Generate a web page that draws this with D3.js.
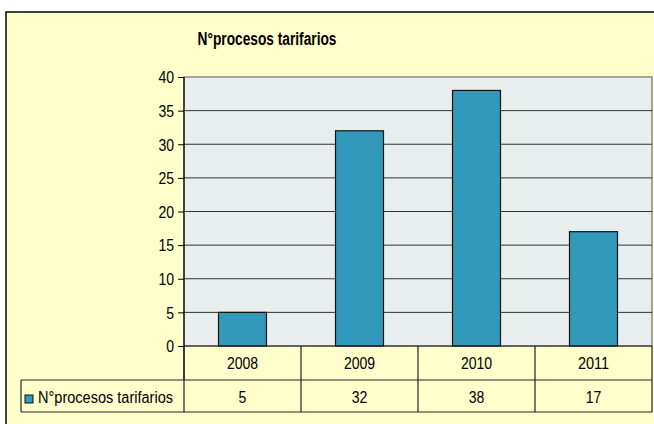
<!DOCTYPE html>
<meta charset="UTF-8">
<style>
body { margin: 0; background: #fff; }
text { font-family: "Liberation Sans", Arial, sans-serif; fill: #000; }
</style>
<body>
<script src="https://d3js.org/d3.v7.min.js"></script>
<script>

// chart data
var years = ["2008", "2009", "2010", "2011"];
var procesos = [5, 32, 38, 17];
var yTicks = [0, 5, 10, 15, 20, 25, 30, 35, 40];
var seriesName = "N°procesos tarifarios";
var title = "N°procesos tarifarios";

var W = 654, H = 424;
var plot = {left: 184, top: 77, right: 652, bottom: 346};
var row1 = 380, row2 = 412, legendLeft = 21;
var charW = 7.8; // narrow digits like the original

var svg = d3.select("body").append("svg")
    .attr("width", W)
    .attr("height", H);

// outer chart area
svg.append("rect")
    .attr("x", 6).attr("y", 12)
    .attr("width", W).attr("height", H)
    .style("fill", "#ffffcc")
    .style("stroke", "#000")
    .style("stroke-width", 1.5);

var x = d3.scaleBand().domain(years).range([plot.left, plot.right]).paddingInner(0).paddingOuter(0);
var y = d3.scaleLinear().domain([0, 40]).range([plot.bottom, plot.top]);

// plot background
svg.append("rect")
    .attr("x", plot.left).attr("y", plot.top)
    .attr("width", plot.right - plot.left)
    .attr("height", plot.bottom - plot.top)
    .style("fill", "#e8eeee")
    .style("stroke", "#888")
    .style("stroke-width", 1.5);

// gridlines
svg.selectAll(".grid").data(yTicks.filter(function(d) { return d > 0 && d < 40; }))
  .enter().append("line")
    .attr("x1", plot.left).attr("x2", plot.right)
    .attr("y1", function(d) { return y(d); })
    .attr("y2", function(d) { return y(d); })
    .style("stroke", "#333")
    .style("stroke-width", 1);

// bars
var bw = x.bandwidth() * 0.41;
svg.selectAll(".bar").data(procesos)
  .enter().append("rect")
    .attr("x", function(d, i) { return x(years[i]) + (x.bandwidth() - bw) / 2; })
    .attr("y", function(d) { return y(d); })
    .attr("width", bw)
    .attr("height", function(d) { return y(0) - y(d); })
    .style("fill", "#3399bb")
    .style("stroke", "#111")
    .style("stroke-width", 1.2);

function narrow(sel) {
  sel.attr("textLength", function() { return this.textContent.length * charW; })
     .attr("lengthAdjust", "spacingAndGlyphs");
}

// y axis
var yAxis = d3.axisLeft(y).tickValues(yTicks).tickSize(6).tickPadding(4);
var ga = svg.append("g")
    .attr("transform", "translate(" + plot.left + ",0)")
    .call(yAxis);
ga.select(".domain").remove();
ga.selectAll("line").style("stroke", "#000");
ga.selectAll("text")
    .style("font-size", "16px")
    .style("font-family", "'Liberation Sans', Arial, sans-serif")
    .attr("fill", "#000")
    .attr("dy", "0.36em")
    .call(narrow);
svg.append("line")
    .attr("x1", plot.left).attr("x2", plot.left)
    .attr("y1", plot.top).attr("y2", row1)
    .style("stroke", "#000").style("stroke-width", 1.2);

// data table
var tbl = svg.append("g").style("stroke", "#222").style("stroke-width", 1.2);
tbl.append("line").attr("x1", plot.left).attr("x2", plot.right).attr("y1", plot.bottom).attr("y2", plot.bottom);
tbl.append("line").attr("x1", legendLeft).attr("x2", plot.right).attr("y1", row1).attr("y2", row1);
tbl.append("line").attr("x1", legendLeft).attr("x2", plot.right).attr("y1", row2).attr("y2", row2);
tbl.append("line").attr("x1", legendLeft).attr("x2", legendLeft).attr("y1", row1).attr("y2", row2);
tbl.selectAll(".vl").data(years)
  .enter().append("line")
    .attr("x1", function(d) { return x(d) + x.bandwidth(); })
    .attr("x2", function(d) { return x(d) + x.bandwidth(); })
    .attr("y1", plot.bottom).attr("y2", row2);
tbl.append("line").attr("x1", plot.left).attr("x2", plot.left).attr("y1", plot.bottom).attr("y2", row2);

svg.selectAll(".cat").data(years)
  .enter().append("text")
    .attr("x", function(d) { return x(d) + x.bandwidth() / 2; })
    .attr("y", 368.5)
    .attr("text-anchor", "middle")
    .style("font-size", "16px")
    .text(function(d) { return d; })
    .call(narrow);

svg.selectAll(".val").data(procesos)
  .enter().append("text")
    .attr("x", function(d, i) { return x(years[i]) + x.bandwidth() / 2; })
    .attr("y", 402.5)
    .attr("text-anchor", "middle")
    .style("font-size", "16px")
    .text(function(d) { return d; })
    .call(narrow);

// legend key
svg.append("rect")
    .attr("x", 25).attr("y", 395).attr("width", 8).attr("height", 8)
    .style("fill", "#3399bb").style("stroke", "#111").style("stroke-width", 1);
svg.append("text")
    .attr("x", 38).attr("y", 403)
    .style("font-size", "16px")
    .attr("textLength", 135).attr("lengthAdjust", "spacingAndGlyphs")
    .text(seriesName);

// title
svg.append("text")
    .attr("x", 267).attr("y", 45)
    .attr("text-anchor", "middle")
    .style("font-size", "18px")
    .style("font-weight", "bold")
    .attr("textLength", 139).attr("lengthAdjust", "spacingAndGlyphs")
    .text(title);

</script>
</body>
